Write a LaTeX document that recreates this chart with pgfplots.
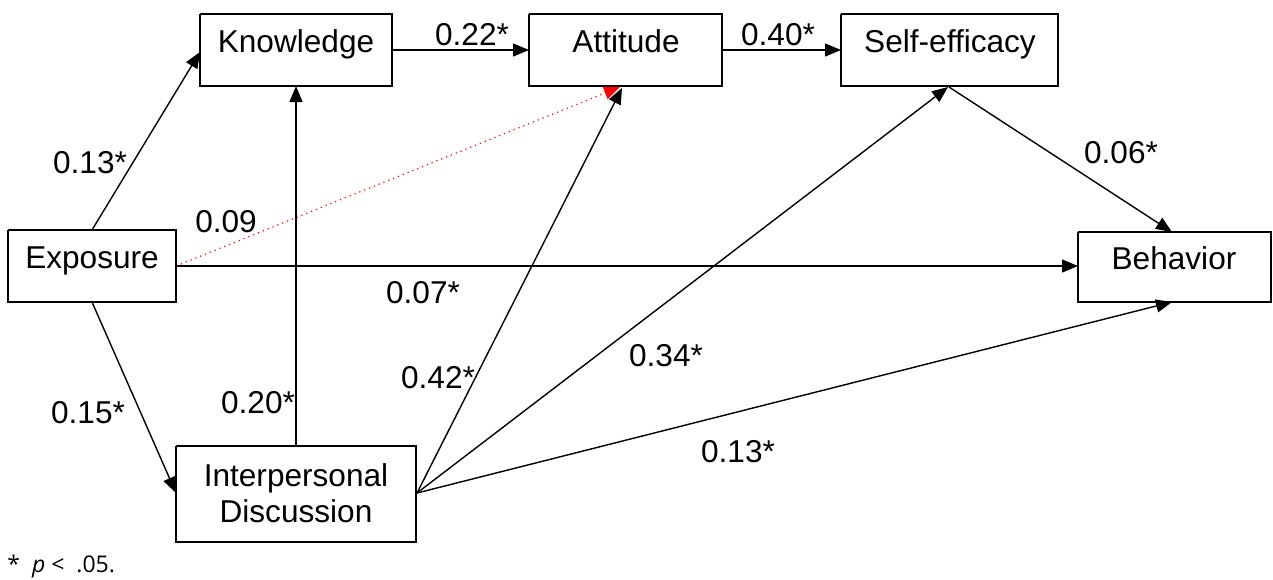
\documentclass[border=0pt]{standalone}
\usepackage{fontspec}
\setmainfont{Liberation Sans}
\newfontfamily\notefont{Open Sans}
\usepackage{pgfplots}
\pgfplotsset{compat=1.18}
\usetikzlibrary{arrows.meta}

% one pixel of the reference = 0.5pt
\tikzset{
  box/.style={black, line width=1pt, line join=miter},
  path/.style={black, line width=0.7pt, -{Triangle[length=8pt,width=6.5pt]}},
  lab/.style={anchor=base, font=\fontsize{15.8}{18}\selectfont, inner sep=0pt},
}

\begin{document}
\begin{tikzpicture}
\begin{axis}[scale only axis, width=636.5pt, height=289.5pt,
    xmin=0, xmax=1273, ymin=0, ymax=579, y dir=reverse,
    hide axis, clip=false]

% keeps the whole canvas in the picture
\addplot[draw=none] coordinates {(0,0) (1273,579)};

% boxes
\addplot[box] coordinates {(200,14) (392,14) (392,86) (200,86) (200,14)};   % Knowledge
\addplot[box] coordinates {(529,14) (722,14) (722,86) (529,86) (529,14)};   % Attitude
\addplot[box] coordinates {(841,14) (1058,14) (1058,86) (841,86) (841,14)}; % Self-efficacy
\addplot[box] coordinates {(8,230) (176,230) (176,302) (8,302) (8,230)};    % Exposure
\addplot[box] coordinates {(1078,232) (1271,232) (1271,302) (1078,302) (1078,232)}; % Behavior
\addplot[box] coordinates {(176,446) (416,446) (416,542) (176,542) (176,446)}; % Interpersonal

% non-significant path
\addplot[red, dotted, line width=0.6pt, -{Triangle[length=8pt,width=6.5pt]}]
  coordinates {(176,266) (620,87)};

% paths
\addplot[path] coordinates {(92,230) (200,52)};
\addplot[path] coordinates {(392,50) (529,50)};
\addplot[path] coordinates {(722,50) (841,50)};
\addplot[path] coordinates {(296,446) (296,86)};
\addplot[path] coordinates {(176,266) (1078,266)};
\addplot[path] coordinates {(92,302) (176,493)};
\addplot[path] coordinates {(417,493) (622,88)};
\addplot[path] coordinates {(417,493) (948,87)};
\addplot[path] coordinates {(417,493) (1172,302)};
\addplot[path] coordinates {(949,87) (1172,232)};

% box texts
\node[lab] at (axis cs:296,52) {Knowledge};
\node[lab] at (axis cs:626,52) {Attitude};
\node[lab] at (axis cs:950,52) {Self-efficacy};
\node[lab] at (axis cs:92,268) {Exposure};
\node[lab] at (axis cs:1174,269) {Behavior};
\node[lab] at (axis cs:296,486) {Interpersonal};
\node[lab] at (axis cs:296,522) {Discussion};

% coefficients
\node[lab] at (axis cs:90,173) {0.13*};
\node[lab] at (axis cs:472,45) {0.22*};
\node[lab] at (axis cs:778,45) {0.40*};
\node[lab] at (axis cs:226,232) {0.09};
\node[lab] at (axis cs:423,303) {0.07*};
\node[lab] at (axis cs:1121,163) {0.06*};
\node[lab] at (axis cs:438,388) {0.42*};
\node[lab] at (axis cs:666,366) {0.34*};
\node[lab] at (axis cs:738,462) {0.13*};
\node[lab] at (axis cs:88,423) {0.15*};
\node[lab] at (axis cs:258,413) {0.20*};

% note
\node[anchor=base west, inner sep=0pt, font=\notefont\fontsize{11.5}{13}\selectfont]
  at (axis cs:7,572) {*\ \ \textit{p} <\ \ .05.};
\end{axis}
\end{tikzpicture}
\end{document}
